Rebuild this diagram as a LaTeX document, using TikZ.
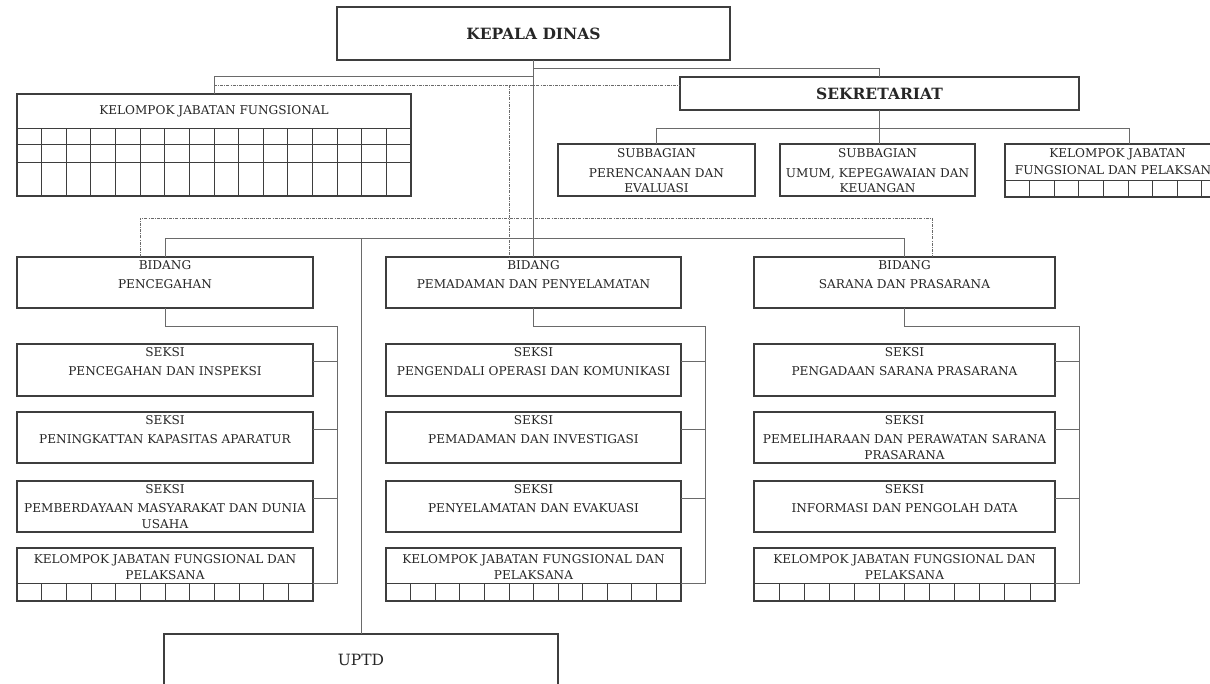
\documentclass[tikz,border=0pt]{standalone}
\usepackage{fontspec}
\setmainfont{DejaVu Serif}
\usetikzlibrary{calc}

\definecolor{ink}{HTML}{262626}
\definecolor{frameclr}{HTML}{3E3E3E}
\definecolor{wire}{HTML}{6A6A6A}

\tikzset{
  unitframe/.style={draw=frameclr, line width=1.1pt, inner sep=0pt, outer sep=0pt, anchor=north west},
  label text/.style={text=ink, inner sep=0pt, anchor=north, align=center, font=\fontsize{12.1}{16}\selectfont},
  head text/.style={text=ink, inner sep=0pt, font=\fontsize{15.5}{18}\selectfont\bfseries},
  uptd text/.style={text=ink, inner sep=0pt, font=\fontsize{15.5}{19}\selectfont},
  link/.style={draw=wire, line width=0.8pt},
  coord/.style={draw=wire, line width=0.7pt, dash pattern=on 3pt off 1.2pt on 0.8pt off 1.2pt},
  gridline/.style={draw=frameclr, line width=0.8pt},
}

% a framed unit given by its corners (x1,y1) and (x2,y2)
\newcommand\orgunit[5]{%
  \node[unitframe, minimum width={(#4-#2)*1pt}, minimum height={(#5-#3)*1pt}] (#1) at (#2,#3) {};}

% one Bidang with its three Seksi and its group of functional posts
\newcommand\orgcolumn[7]{%
  \orgunit{#1b}{#2}{257}{#3}{308}
  \node[label text] (#1bT) at ($(#1b.north)+(0,3.3)$) {BIDANG\\[3pt]#4};
  \orgunit{#1sa}{#2}{344}{#3}{396}
  \node[label text] (#1saT) at ($(#1sa.north)+(0,3.8)$) {SEKSI\\[3pt]#5};
  \orgunit{#1sb}{#2}{412}{#3}{463}
  \node[label text] (#1sbT) at ($(#1sb.north)+(0,3.8)$) {SEKSI\\[3pt]#6};
  \orgunit{#1sc}{#2}{481}{#3}{532}
  \node[label text] (#1scT) at ($(#1sc.north)+(0,3.8)$) {SEKSI\\[3pt]#7};
  \orgunit{#1kj}{#2}{548}{#3}{601}
  \node[label text] (#1kjT) at ($(#1kj.north)+(0,6.5)$) {KELOMPOK JABATAN FUNGSIONAL DAN\\PELAKSANA};
  \draw[gridline] ($(#1kj.south west)+(0,-18)$) -- ($(#1kj.south east)+(0,-18)$);
  \foreach \k in {1,...,11}
    \draw[gridline] ($(#1kj.south west)!\k/12!(#1kj.south east)$) -- ++(0,-18);
  \draw[link] (#1b.south) -- ++(0,18) -| ($(#1kj.south east)+(24,-18)$) -- ($(#1kj.south east)+(0,-18)$);
  \foreach \s in {sa,sb,sc}
    \draw[link] ($(#1\s.north east)+(0,17)$) -- ++(24,0);
}

\begin{document}
\begin{tikzpicture}[x=1pt,y=-1pt]
\useasboundingbox (0,0) rectangle (1210,683);
\clip (0,0) rectangle (1210,683);
\fill[white] (0,0) rectangle (1210,683);

% head of the office
\orgunit{kd}{337}{7}{730}{60}
\node[head text] (kdT) at (kd.center) {KEPALA DINAS};

% secretariat
\orgunit{sek}{680}{77}{1079}{110}
\node[head text] (sekT) at (sek.center) {SEKRETARIAT};

% functional group under the head
\orgunit{kjf}{17}{94}{411}{196}
\node[label text, anchor=center] (kjfT) at ($(kjf.north)+(0,17)$) {KELOMPOK JABATAN FUNGSIONAL};
\foreach \r in {34,50,68}
  \draw[gridline] ($(kjf.north west)+(0,\r)$) -- ($(kjf.north east)+(0,\r)$);
\foreach \k in {1,...,15}
  \draw[gridline] ($(kjf.north west)+(\k*24.625,34)$) -- ($(kjf.south west)+(\k*24.625,0)$);

% sub-sections of the secretariat
\orgunit{sba}{558}{144}{755}{196}
\node[label text] (sbaT) at ($(sba.north)+(0,4)$) {SUBBAGIAN\\[4pt]PERENCANAAN DAN\\[-1pt]EVALUASI};
\orgunit{sbb}{780}{144}{975}{196}
\node[label text] (sbbT) at ($(sbb.north)+(0,4)$) {SUBBAGIAN\\[4pt]UMUM, KEPEGAWAIAN DAN\\[-1pt]KEUANGAN};
\orgunit{sbc}{1005}{144}{1253}{197}
\node[label text] (sbcT) at ($(sbc.north)+(-11.5,4)$) {KELOMPOK JABATAN\\[1pt]FUNGSIONAL DAN PELAKSANA};
\draw[gridline] ($(sbc.north west)+(0,36)$) -- ($(sbc.north east)+(0,36)$);
\foreach \k in {1,...,9}
  \draw[gridline] ($(sbc.north west)+(\k*24.6,36)$) -- ($(sbc.south west)+(\k*24.6,0)$);

% the three fields
\orgcolumn{pc}{17}{313}{PENCEGAHAN}
  {PENCEGAHAN DAN INSPEKSI}
  {PENINGKATTAN KAPASITAS APARATUR}
  {PEMBERDAYAAN MASYARAKAT DAN DUNIA\\USAHA}
\orgcolumn{pm}{386}{681}{PEMADAMAN DAN PENYELAMATAN}
  {PENGENDALI OPERASI DAN KOMUNIKASI}
  {PEMADAMAN DAN INVESTIGASI}
  {PENYELAMATAN DAN EVAKUASI}
\orgcolumn{sp}{754}{1055}{SARANA DAN PRASARANA}
  {PENGADAAN SARANA PRASARANA}
  {PEMELIHARAAN DAN PERAWATAN SARANA\\PRASARANA}
  {INFORMASI DAN PENGOLAH DATA}

% technical unit
\orgunit{uptd}{164}{634}{558}{720}
\node[uptd text] (uptdT) at ($(uptd.north)+(0,26)$) {UPTD};

% lines of command
\draw[link] (kd.south) -- (pmb.north);
\draw[link] (kd.south) -- ++(0,16) -| (kjf.north);
\draw[link] (kd.south) -- ++(0,8) -| (sek.north);
\draw[link] (sek.south) -- (sek.south |- sbb.north);
\draw[link] (sba.north) -- ++(0,-16) -| (sbc.north);
\draw[link] (pcb.north) -- ++(0,-19) -| (spb.north);
\draw[link] (uptd.north) -- ++(0,-396);

% lines of coordination
\coordinate (cdl) at ($(kjf.north)+(0,-9)$);
\coordinate (cdv) at ($(pmb.north)+(-24.5,0)$);
\draw[coord] (cdl) -- (cdl -| sek.west);
\draw[coord] (cdv |- cdl) -- (cdv);
\draw[coord] ($(pcb.north)+(-25,0)$) -- ++(0,-39) -| ($(spb.north)+(27.5,0)$);
\end{tikzpicture}
\end{document}
